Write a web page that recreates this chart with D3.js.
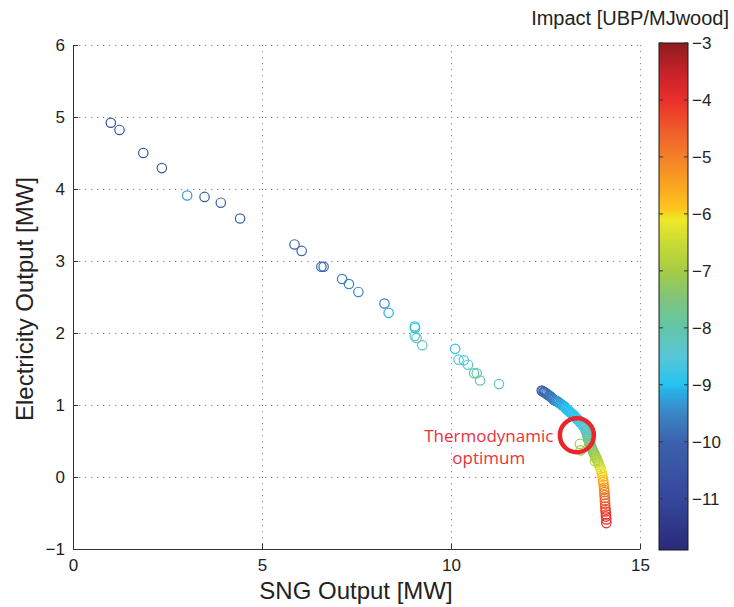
<!DOCTYPE html>
<html>
<head>
<meta charset="utf-8">
<script src="https://cdn.jsdelivr.net/npm/d3@7"></script>
<style>
  body { margin: 0; background: #fff; }
  text { font-family: "Liberation Sans", Arial, sans-serif; fill: #222; }
</style>
</head>
<body>
<div class="svg"></div>
<script>
const w = 734;
const h = 607;

// scattered Pareto points
const sngScatter = [1.00, 1.23, 1.86, 2.35, 3.02, 3.48, 3.91, 4.42, 5.86, 6.05, 6.57, 6.63, 7.12, 7.30, 7.55, 8.24, 8.35, 9.04, 9.05, 9.04, 9.09, 9.24, 10.11, 10.20, 10.34, 10.45, 10.61, 10.68, 10.77, 11.27];
const elecScatter = [4.92, 4.82, 4.50, 4.29, 3.91, 3.89, 3.81, 3.59, 3.23, 3.14, 2.92, 2.92, 2.75, 2.68, 2.57, 2.41, 2.28, 2.09, 2.07, 1.96, 1.93, 1.83, 1.78, 1.63, 1.62, 1.56, 1.44, 1.44, 1.34, 1.29];
const impactScatter = [-10.6, -10.5, -10.4, -10.3, -9.3, -10.2, -10.1, -10.0, -10.1, -10.0, -10.0, -9.9, -9.7, -9.6, -9.5, -9.6, -9.1, -9.0, -9.0, -8.3, -8.3, -8.1, -8.9, -8.6, -8.6, -8.5, -8.0, -8.1, -7.9, -8.4];

// dense front near the optimum
const sngFront = [12.40, 12.42, 12.45, 12.47, 12.49, 12.52, 12.54, 12.57, 12.60, 12.62, 12.65, 12.68, 12.71,
  12.73, 12.76, 12.78, 12.81, 12.83, 12.86, 12.89, 12.91, 12.94, 12.97,
  13.00, 13.02, 13.04, 13.06, 13.08, 13.11, 13.13, 13.15,
  13.17, 13.20, 13.22, 13.24, 13.26, 13.28, 13.31, 13.33,
  13.35, 13.37, 13.39, 13.41, 13.44, 13.46, 13.48, 13.50,
  13.52, 13.54, 13.55, 13.57, 13.58, 13.59,
  13.60, 13.61, 13.62, 13.62, 13.63,
  13.64, 13.66, 13.67, 13.69, 13.70, 13.72, 13.73, 13.75, 13.76, 13.77,
  13.79, 13.80, 13.82, 13.83, 13.85, 13.86, 13.88, 13.90,
  13.92, 13.94, 13.96, 13.97, 13.99, 14.00, 14.01, 14.02, 14.03, 14.04, 14.05, 14.05, 14.06, 14.06, 14.07, 14.07, 14.08, 14.08, 14.09, 14.09, 14.10, 14.10, 14.11, 14.11,
  13.41, 13.43, 13.81];
const elecFront = [1.20, 1.19, 1.18, 1.18, 1.17, 1.16, 1.15, 1.14, 1.13, 1.12, 1.11, 1.09, 1.08,
  1.07, 1.06, 1.06, 1.05, 1.04, 1.03, 1.02, 1.01, 1.00, 0.99,
  0.98, 0.97, 0.95, 0.94, 0.93, 0.92, 0.91, 0.90,
  0.89, 0.88, 0.87, 0.86, 0.85, 0.84, 0.82, 0.81,
  0.80, 0.79, 0.78, 0.76, 0.75, 0.74, 0.72, 0.71,
  0.69, 0.68, 0.66, 0.65, 0.63, 0.62,
  0.60, 0.58, 0.57, 0.55, 0.53,
  0.51, 0.49, 0.47, 0.45, 0.43, 0.41, 0.39, 0.37, 0.35, 0.34,
  0.32, 0.31, 0.29, 0.27, 0.26, 0.24, 0.22, 0.20,
  0.17, 0.14, 0.11, 0.08, 0.06, 0.03, 0.00, -0.04, -0.07, -0.11, -0.15, -0.18, -0.21, -0.25, -0.29, -0.33, -0.37, -0.41, -0.45, -0.48, -0.52, -0.55, -0.59, -0.64,
  0.46, 0.37, 0.22];
const impactFront = [-10.1, -10.1, -10.0, -10.0, -10.0, -9.9, -9.9, -9.9, -9.8, -9.8, -9.7, -9.7, -9.6,
  -9.6, -9.5, -9.5, -9.4, -9.4, -9.3, -9.3, -9.2, -9.2, -9.1,
  -9.1, -9.1, -9.0, -9.0, -9.0, -9.0, -9.0, -9.0,
  -9.0, -9.0, -8.9, -8.9, -8.9, -8.9, -8.9, -8.9,
  -8.8, -8.8, -8.8, -8.7, -8.7, -8.7, -8.6, -8.6,
  -8.5, -8.5, -8.4, -8.4, -8.3, -8.3,
  -8.2, -8.2, -8.1, -8.1, -8.0,
  -7.9, -7.9, -7.8, -7.7, -7.6, -7.6, -7.5, -7.4, -7.4, -7.3,
  -7.2, -7.2, -7.1, -7.0, -6.9, -6.9, -6.8, -6.7,
  -6.6, -6.4, -6.3, -6.2, -6.1, -6.0, -5.9, -5.7, -5.6, -5.4, -5.3, -5.1, -5.0, -4.9, -4.7, -4.6, -4.5, -4.4, -4.3, -4.2, -4.1, -4.0, -4.0, -3.9,
  -7.0, -7.1, -6.8];

const xTicks = [0, 5, 10, 15];
const yTicks = [-1, 0, 1, 2, 3, 4, 5, 6];
const cTicks = [-11, -10, -9, -8, -7, -6, -5, -4, -3];

// colormap (printed jet)
const cmapStops = [-11.9, -11, -10, -9.5, -9.1, -9, -8.5, -8, -7.5, -7, -6.5, -6.1, -5.9, -5.5, -5, -4.5, -4, -3.5, -3];
const cmapColors = ["#2b2a78", "#35479b", "#3b62ad", "#3a86c6", "#2ab0e6", "#25c4f0", "#57c6d6", "#62c5a8", "#7ec47c", "#a5cc45", "#cadb33", "#eee828", "#fcc51d", "#f9a521", "#f47f2a", "#ef5a2b", "#eb2e2b", "#c42228", "#8d1c1e"];

const svg = d3.select('.svg').append('svg').attr('width', w).attr('height', h);

const xScale = d3.scaleLinear().domain([0, 15]).range([73, 640]);
const yScale = d3.scaleLinear().domain([-1, 6]).range([549, 45]);
const color = d3.scaleLinear().domain(cmapStops).range(cmapColors).clamp(true);
const cScale = d3.scaleLinear().domain([-11.9, -3]).range([550, 43]);

// grid
const grid = svg.append('g').attr('stroke', '#8a8a8a').attr('stroke-width', 1).attr('stroke-dasharray', '1.2,4.8');
grid.selectAll('.gx').data(xTicks.slice(1)).enter().append('line')
  .attr('x1', d => Math.round(xScale(d)) + 0.5).attr('x2', d => Math.round(xScale(d)) + 0.5)
  .attr('y1', yScale(6)).attr('y2', yScale(-1));
grid.selectAll('.gy').data(yTicks.slice(1)).enter().append('line')
  .attr('y1', d => Math.round(yScale(d)) + 0.5).attr('y2', d => Math.round(yScale(d)) + 0.5)
  .attr('x1', xScale(0)).attr('x2', xScale(15));

// axes
const xAxis = d3.axisBottom(xScale).tickValues(xTicks).tickFormat(d3.format('d')).tickSizeInner(-5).tickSizeOuter(0).tickPadding(10);
const gx = svg.append('g').attr('transform', 'translate(0,' + yScale(-1) + ')').call(xAxis);
const yAxis = d3.axisLeft(yScale).tickValues(yTicks).tickFormat(d3.format('d')).tickSizeInner(-5).tickSizeOuter(0).tickPadding(8);
const gy = svg.append('g').attr('transform', 'translate(' + xScale(0) + ',0)').call(yAxis);
[gx, gy].forEach(g => {
  g.selectAll('path,line').attr('stroke', '#333');
  g.selectAll('text').style('font-size', '17px');
});
gx.selectAll('text').attr('dy', '0.71em');

// points
const pts = sngScatter.map((d, i) => [d, elecScatter[i], impactScatter[i]])
  .concat(sngFront.map((d, i) => [d, elecFront[i], impactFront[i]]));
svg.append('g').selectAll('circle').data(pts).enter().append('circle')
  .attr('cx', d => xScale(d[0])).attr('cy', d => yScale(d[1])).attr('r', 4.7)
  .attr('fill', 'none').attr('stroke', d => color(d[2])).attr('stroke-width', 1.2);

// annotation
svg.append('circle').attr('cx', xScale(13.33)).attr('cy', yScale(0.58)).attr('r', 17)
  .attr('fill', 'none').attr('stroke', '#e8262c').attr('stroke-width', 4.5);
const ann = svg.append('text').attr('text-anchor', 'middle')
  .style('font-family', '"Open Sans", sans-serif').style('font-size', '17px').style('fill', '#e8333a');
ann.append('tspan').attr('x', xScale(11.0)).attr('y', yScale(0.49)).text('Thermodynamic');
ann.append('tspan').attr('x', xScale(11.0)).attr('y', yScale(0.18)).text('optimum');

// axis labels
svg.append('text').attr('x', 356).attr('y', 599).attr('text-anchor', 'middle')
  .style('font-size', '24px').text('SNG Output [MW]');
svg.append('text').attr('transform', 'translate(33,299) rotate(-90)').attr('text-anchor', 'middle')
  .style('font-size', '24px').text('Electricity Output [MW]');

// colorbar
const defs = svg.append('defs');
const grad = defs.append('linearGradient').attr('id', 'cbar').attr('x1', 0).attr('x2', 0).attr('y1', 1).attr('y2', 0);
cmapStops.forEach((s, i) => {
  grad.append('stop').attr('offset', (s + 11.9) / 8.9).attr('stop-color', cmapColors[i]);
});
svg.append('rect').attr('x', 659).attr('y', cScale(-3)).attr('width', 29).attr('height', cScale(-11.9) - cScale(-3))
  .attr('fill', 'url(#cbar)').attr('stroke', '#1a1a1a').attr('stroke-width', 1);
const cb = svg.append('g');
cb.selectAll('.tl').data(cTicks).enter().append('line')
  .attr('x1', 659).attr('x2', 663).attr('y1', d => cScale(d)).attr('y2', d => cScale(d))
  .attr('stroke', '#333').attr('stroke-width', 1);
cb.selectAll('.tr').data(cTicks).enter().append('line')
  .attr('x1', 684).attr('x2', 688).attr('y1', d => cScale(d)).attr('y2', d => cScale(d))
  .attr('stroke', '#333').attr('stroke-width', 1);
cb.selectAll('text').data(cTicks).enter().append('text')
  .attr('x', 692).attr('y', d => cScale(d)).attr('dy', '0.35em')
  .style('font-size', '17px').text(d => d3.format('d')(d));
svg.append('text').attr('x', 729).attr('y', 25).attr('text-anchor', 'end')
  .style('font-size', '20px').text('Impact [UBP/MJwood]');
</script>
</body>
</html>
